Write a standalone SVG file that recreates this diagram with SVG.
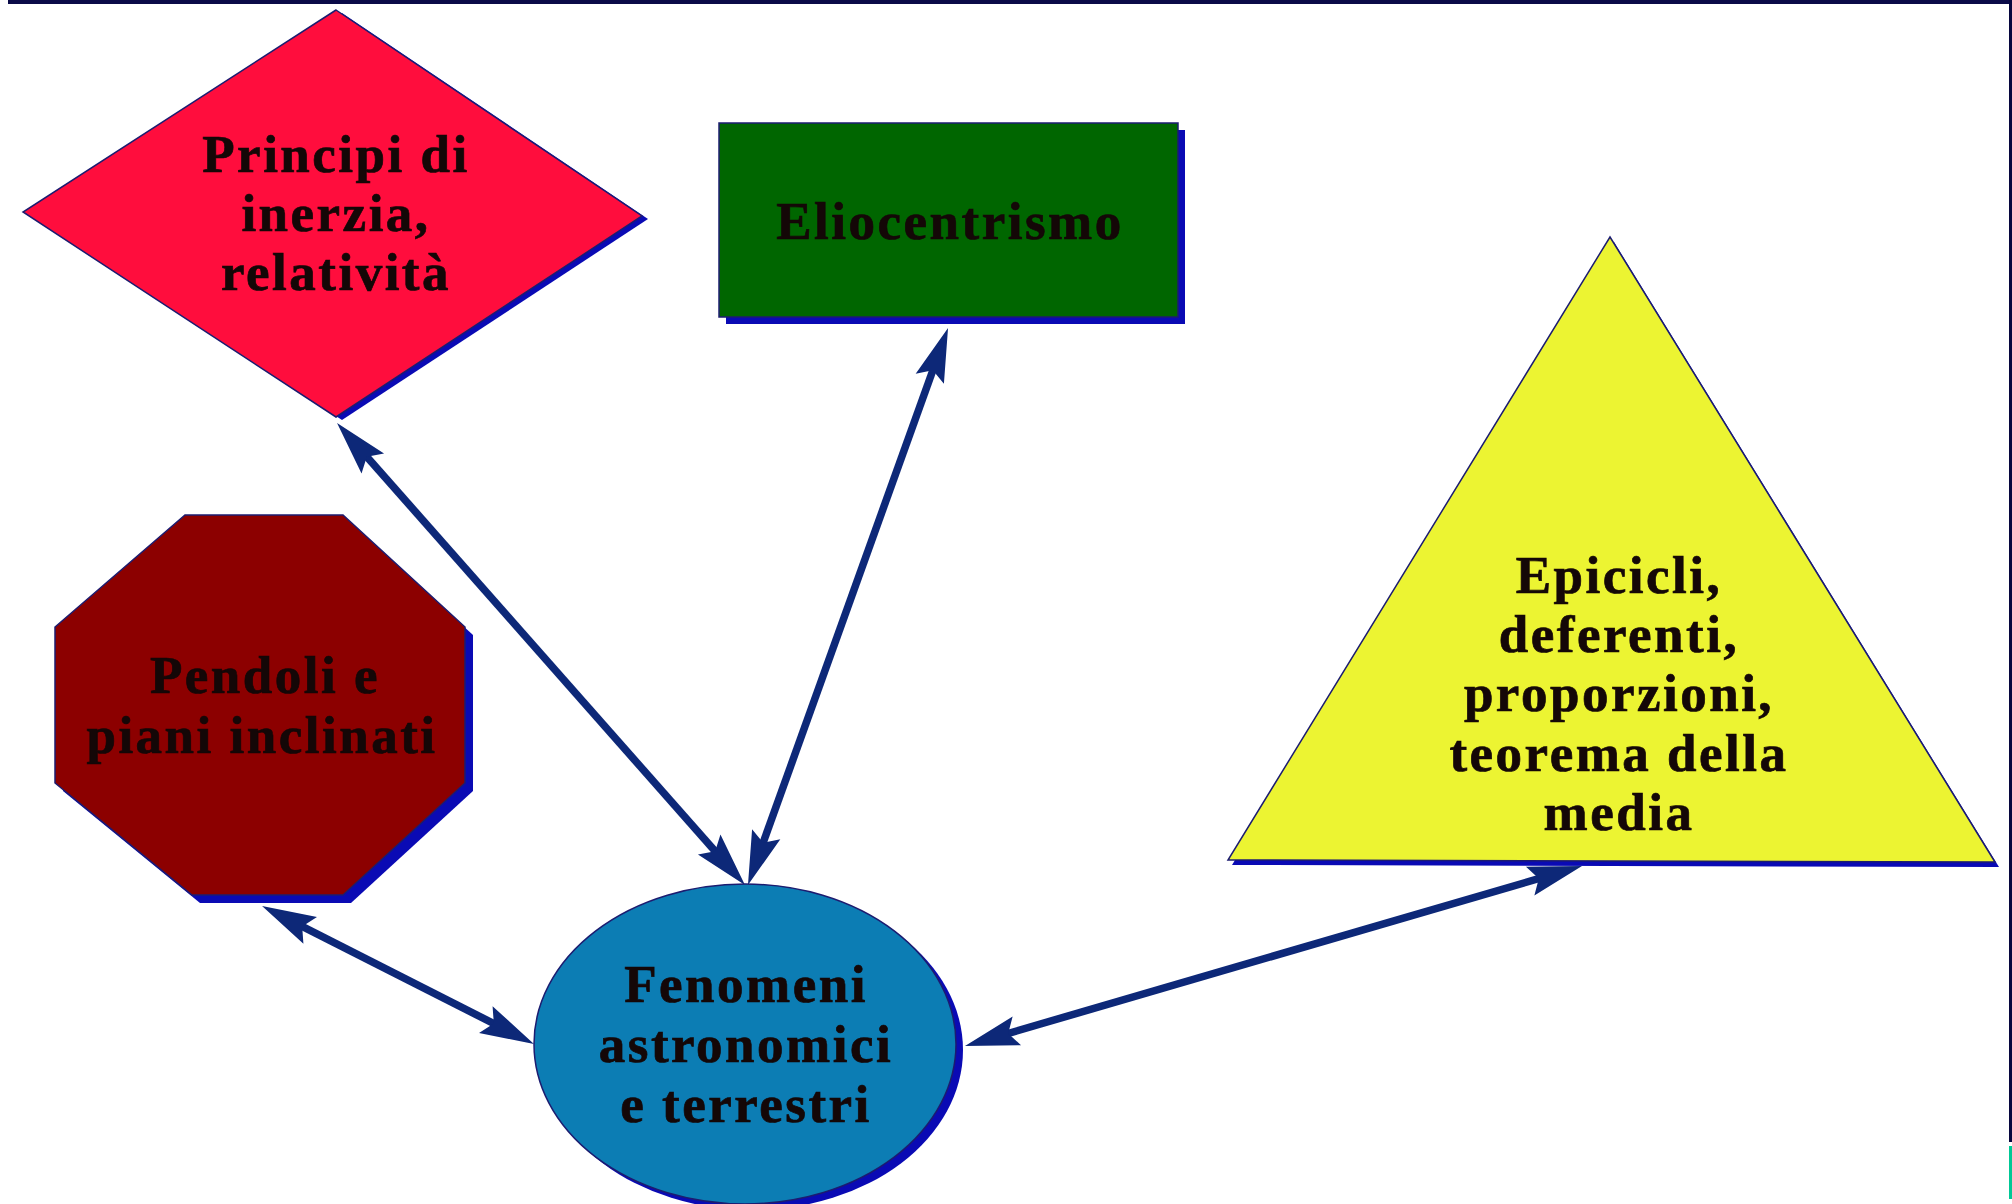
<svg xmlns="http://www.w3.org/2000/svg" width="2012" height="1204" viewBox="0 0 2012 1204">
  <style>
    .label { font-family: "Liberation Serif", "Times New Roman", serif; font-weight: bold; font-size: 53px; letter-spacing: 2.5px; text-anchor: middle; fill: #140707; stroke: #140707; stroke-width: 0.7px; }
    .shadow { fill: #0a0ab4; }
    .edge { stroke: #1c1c70; stroke-width: 1.5; }
    .conn { fill: none; stroke: #0d2878; stroke-width: 7.5; marker-start: url(#head); marker-end: url(#head); }
  </style>
  <defs>
    <!-- arrowhead: tip sits 30 units past the line end -->
    <marker id="head" markerUnits="userSpaceOnUse" markerWidth="70" markerHeight="40" viewBox="-30 -20 70 40" refX="0" refY="0" orient="auto-start-reverse">
      <path d="M30,0 L-24,-15 L-15,0 L-24,15 Z" fill="#0d2878"/>
    </marker>
  </defs>

  <rect width="2012" height="1204" fill="#ffffff"/>
  <!-- frame strips -->
  <rect x="8" y="0" width="2004" height="4" fill="#0a0a48"/>
  <rect x="2009" y="0" width="3" height="1142" fill="#06063e"/>
  <rect x="2009" y="1146" width="3" height="53" fill="#00c896"/>

  <g id="connectors">
    <path class="conn" d="M356.9,445.5 L725.1,862.5"/>
    <path class="conn" d="M937.9,356.2 L758.1,856.8"/>
    <path class="conn" d="M288.8,919.6 L507.2,1030.4"/>
    <path class="conn" d="M1553.2,874.4 L993.8,1037.6"/>
  </g>

  <g id="principi">
    <polygon class="shadow" points="342,13 648,219 342,420 29,215"/>
    <polygon class="edge" fill="#ff0d3d" points="336,10 642,216 336,417 23,212"/>
    <text class="label" x="336" y="172">Principi di</text>
    <text class="label" x="336" y="231">inerzia,</text>
    <text class="label" x="336" y="290">relatività</text>
  </g>

  <g id="eliocentrismo">
    <rect class="shadow" x="726" y="130" width="459" height="194"/>
    <rect class="edge" fill="#006600" x="719" y="123" width="459" height="194"/>
    <text class="label" x="950" y="239">Eliocentrismo</text>
  </g>

  <g id="epicicli">
    <polygon class="shadow" points="1614,242 1999,867 1232,865"/>
    <polygon class="edge" fill="#ecf432" points="1610,237 1995,862 1228,860"/>
    <text class="label" x="1619" y="593">Epicicli,</text>
    <text class="label" x="1619" y="652">deferenti,</text>
    <text class="label" x="1619" y="711">proporzioni,</text>
    <text class="label" x="1619" y="771">teorema della</text>
    <text class="label" x="1619" y="830">media</text>
  </g>

  <g id="pendoli">
    <polygon class="shadow" points="193,523 351,523 473,635 473,791 351,903 200,903 63,791 63,635"/>
    <polygon class="edge" fill="#8c0000" points="185,515 343,515 465,627 465,783 343,895 192,895 55,783 55,627"/>
    <text class="label" x="265" y="693">Pendoli e</text>
    <text class="label" x="262" y="753">piani inclinati</text>
  </g>

  <g id="fenomeni">
    <ellipse class="shadow" cx="752" cy="1050" rx="211" ry="160"/>
    <ellipse class="edge" fill="#0c7db4" cx="745" cy="1044" rx="211" ry="160"/>
    <text class="label" x="746" y="1002">Fenomeni</text>
    <text class="label" x="746" y="1062">astronomici</text>
    <text class="label" x="746" y="1122">e terrestri</text>
  </g>
</svg>
